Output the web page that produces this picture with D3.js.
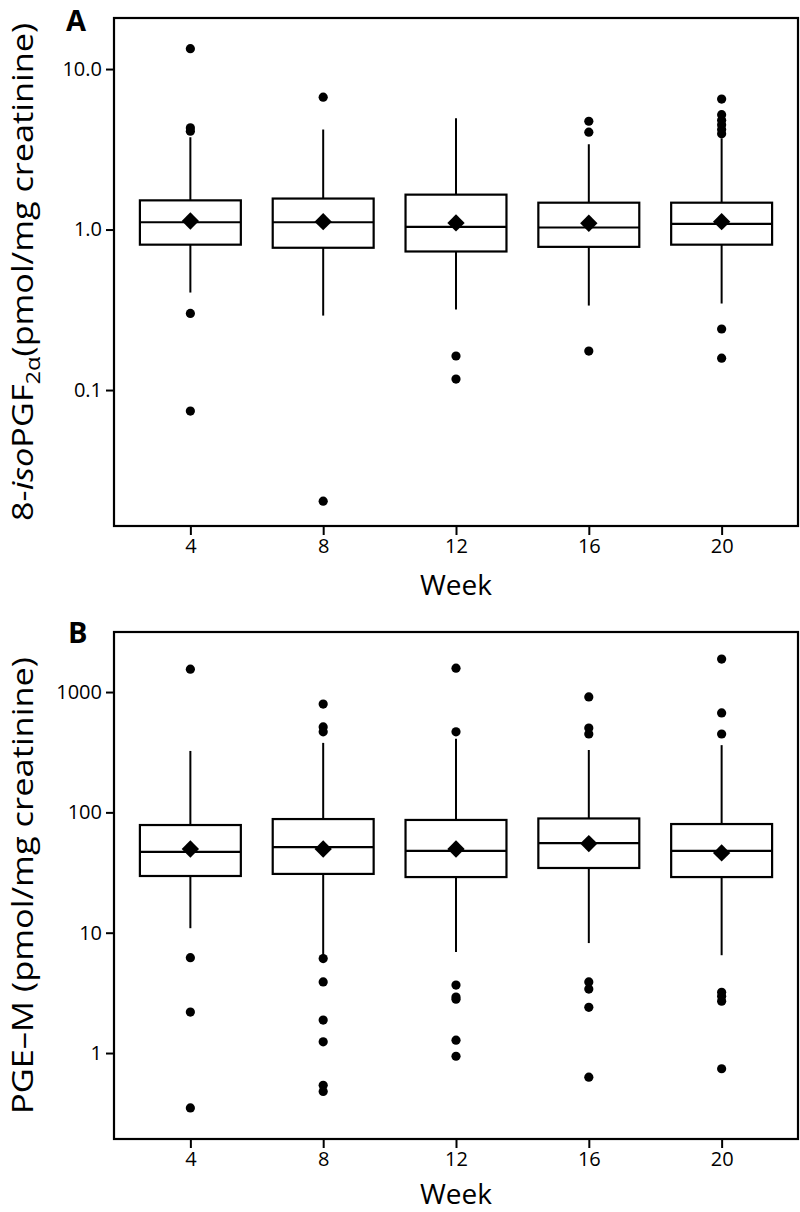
<!DOCTYPE html>
<html>
<head>
<meta charset="utf-8">
<script src="https://cdn.jsdelivr.net/npm/d3@7"></script>
<style>
  html, body { margin: 0; padding: 0; background: #fff; }
  svg { display: block; }
  text { font-family: "Open Sans", "Noto Sans", sans-serif; fill: #000; }
</style>
</head>
<body>
<div id="chart"></div>
<script>
// ---------------- DATA ----------------
const weeks = [4, 8, 12, 16, 20];

// Panel A: 8-isoPGF2α
const isoQ1     = [0.805, 0.77, 0.73, 0.78, 0.805];
const isoMedian = [1.11, 1.11, 1.04, 1.03, 1.085];
const isoQ3     = [1.52, 1.56, 1.65, 1.47, 1.47];
const isoMean   = [1.13, 1.12, 1.10, 1.095, 1.12];
const isoLow    = [0.405, 0.291, 0.318, 0.336, 0.346];
const isoHigh   = [3.76, 4.2, 4.94, 3.4, 3.7];
const isoOutliers = [
  [13.4, 4.3, 4.1, 0.30, 0.074],
  [6.68, 0.0203],
  [0.163, 0.117],
  [4.73, 4.04, 0.175],
  [6.5, 5.2, 4.8, 4.5, 4.2, 3.95, 0.24, 0.158]
];
const isoTicks = [0.1, 1, 10];
const isoTickLabels = ["0.1", "1.0", "10.0"];

// Panel B: PGE-M
const pgeQ1     = [29.6, 30.8, 29, 34.5, 29];
const pgeMedian = [46.9, 51.5, 47.8, 55.6, 47.8];
const pgeQ3     = [78.5, 88, 86.5, 89, 80];
const pgeMean   = [49.6, 49.6, 49.6, 55, 46];
const pgeLow    = [10.9, 6.1, 6.9, 8.2, 6.5];
const pgeHigh   = [324, 378, 409, 330, 362];
const pgeOutliers = [
  [1550, 6.2, 2.19, 0.35],
  [795, 513, 467, 6.1, 3.9, 1.88, 1.24, 0.54, 0.48],
  [1580, 467, 3.67, 2.92, 2.8, 1.28, 0.94],
  [910, 502, 448, 3.9, 3.4, 2.4, 0.63],
  [1880, 670, 448, 3.2, 2.97, 2.7, 0.74]
];
const pgeTicks = [1, 10, 100, 1000];
const pgeTickLabels = ["1", "10", "100", "1000"];

// ---------------- DRAW ----------------
const W = 800, H = 1212;
const svg = d3.select("#chart").append("svg").attr("width", W).attr("height", H);

const left = 114, right = 798;
const x = d3.scaleLinear().domain([1.7, 22.3]).range([left, right]);

function panel(opts) {
  const { top, bottom, domain, q1, med, q3, mean, lo, hi, outliers, ticks, tickLabels,
          letter, letterX, letterY, label, labelLen, weekOffset } = opts;
  const y = d3.scaleLog().domain(domain).range([bottom, top]);
  const g = svg.append("g");
  const halfW = (x(8) - x(4)) * 0.38;
  const rows = weeks.map((w, i) => ({ w, q1: q1[i], med: med[i], q3: q3[i], mean: mean[i], lo: lo[i], hi: hi[i], out: outliers[i] }));

  // whiskers
  g.selectAll(".wh-up").data(rows).join("line")
    .attr("x1", d => x(d.w)).attr("x2", d => x(d.w))
    .attr("y1", d => y(d.q3)).attr("y2", d => y(d.hi))
    .attr("stroke", "#000").attr("stroke-width", 2);
  g.selectAll(".wh-dn").data(rows).join("line")
    .attr("x1", d => x(d.w)).attr("x2", d => x(d.w))
    .attr("y1", d => y(d.q1)).attr("y2", d => y(d.lo))
    .attr("stroke", "#000").attr("stroke-width", 2);

  // boxes
  g.selectAll(".box").data(rows).join("rect")
    .attr("x", d => x(d.w) - halfW).attr("width", 2 * halfW)
    .attr("y", d => y(d.q3)).attr("height", d => y(d.q1) - y(d.q3))
    .attr("fill", "#fff").attr("stroke", "#000").attr("stroke-width", 2.2);
  g.selectAll(".med").data(rows).join("line")
    .attr("x1", d => x(d.w) - halfW).attr("x2", d => x(d.w) + halfW)
    .attr("y1", d => y(d.med)).attr("y2", d => y(d.med))
    .attr("stroke", "#000").attr("stroke-width", 2.2);

  // means
  const diamond = d3.symbol().type(d3.symbolSquare).size(150);
  g.selectAll(".mean").data(rows).join("path")
    .attr("d", diamond)
    .attr("transform", d => `translate(${x(d.w)},${y(d.mean)}) rotate(45)`)
    .attr("fill", "#000");

  // outliers
  const pts = rows.flatMap(d => d.out.map(v => ({ w: d.w, v })));
  g.selectAll(".out").data(pts).join("circle")
    .attr("cx", d => x(d.w)).attr("cy", d => y(d.v)).attr("r", 4.6)
    .attr("fill", "#000");

  // frame
  g.append("rect").attr("x", left).attr("y", top)
    .attr("width", right - left).attr("height", bottom - top)
    .attr("fill", "none").attr("stroke", "#000").attr("stroke-width", 2.2);

  // y axis
  const ya = g.append("g").attr("transform", `translate(${left},0)`)
    .call(d3.axisLeft(y).tickValues(ticks).tickFormat((d, i) => tickLabels[i]).tickSize(8).tickPadding(4));
  ya.select(".domain").remove();
  ya.selectAll("line").attr("stroke-width", 2);
  ya.selectAll("text").attr("font-size", 20).attr("font-family", '"Open Sans", sans-serif').attr("fill", "#000");

  // x axis
  const xa = g.append("g").attr("transform", `translate(0,${bottom})`)
    .call(d3.axisBottom(x).tickValues(weeks).tickFormat(d3.format("d")).tickSize(9).tickPadding(4));
  xa.select(".domain").remove();
  xa.selectAll("line").attr("stroke-width", 2);
  xa.selectAll("text").attr("font-size", 20).attr("font-family", '"Open Sans", sans-serif').attr("fill", "#000");

  // x title
  g.append("text").attr("x", (left + right) / 2).attr("y", bottom + weekOffset)
    .attr("text-anchor", "middle").attr("font-size", 28).text("Week");

  // panel letter
  g.append("text").attr("x", letterX).attr("y", letterY)
    .attr("font-family", '"Liberation Sans", Arial, sans-serif')
    .attr("font-size", 29).attr("font-weight", "bold").text(letter);

  // y title
  const yt = g.append("text")
    .attr("transform", `translate(33,${(top + bottom) / 2}) rotate(-90)`)
    .attr("text-anchor", "middle")
    .attr("font-family", 'Roboto, "Open Sans", sans-serif')
    .attr("font-size", 29)
    .attr("textLength", labelLen).attr("lengthAdjust", "spacingAndGlyphs");
  label(yt);
}

panel({
  top: 18, bottom: 526, domain: [0.01422, 20.8],
  q1: isoQ1, med: isoMedian, q3: isoQ3, mean: isoMean, lo: isoLow, hi: isoHigh, outliers: isoOutliers,
  ticks: isoTicks, tickLabels: isoTickLabels, letter: "A", letterX: 66, letterY: 31, labelLen: 498,
  weekOffset: 69,
  label: t => {
    t.append("tspan").text("8-");
    t.append("tspan").attr("font-style", "italic").text("iso");
    t.append("tspan").text("PGF");
    t.append("tspan").attr("font-size", 20).attr("dy", 7).text("2α");
    t.append("tspan").attr("dy", -7).text("(pmol/mg creatinine)");
  }
});

panel({
  top: 632, bottom: 1139, domain: [0.193, 3155],
  q1: pgeQ1, med: pgeMedian, q3: pgeQ3, mean: pgeMean, lo: pgeLow, hi: pgeHigh, outliers: pgeOutliers,
  ticks: pgeTicks, tickLabels: pgeTickLabels, letter: "B", letterX: 68, letterY: 643, labelLen: 457,
  weekOffset: 64.5,
  label: t => { t.text("PGE\u2013M (pmol/mg creatinine)"); }
});
</script>
</body>
</html>
